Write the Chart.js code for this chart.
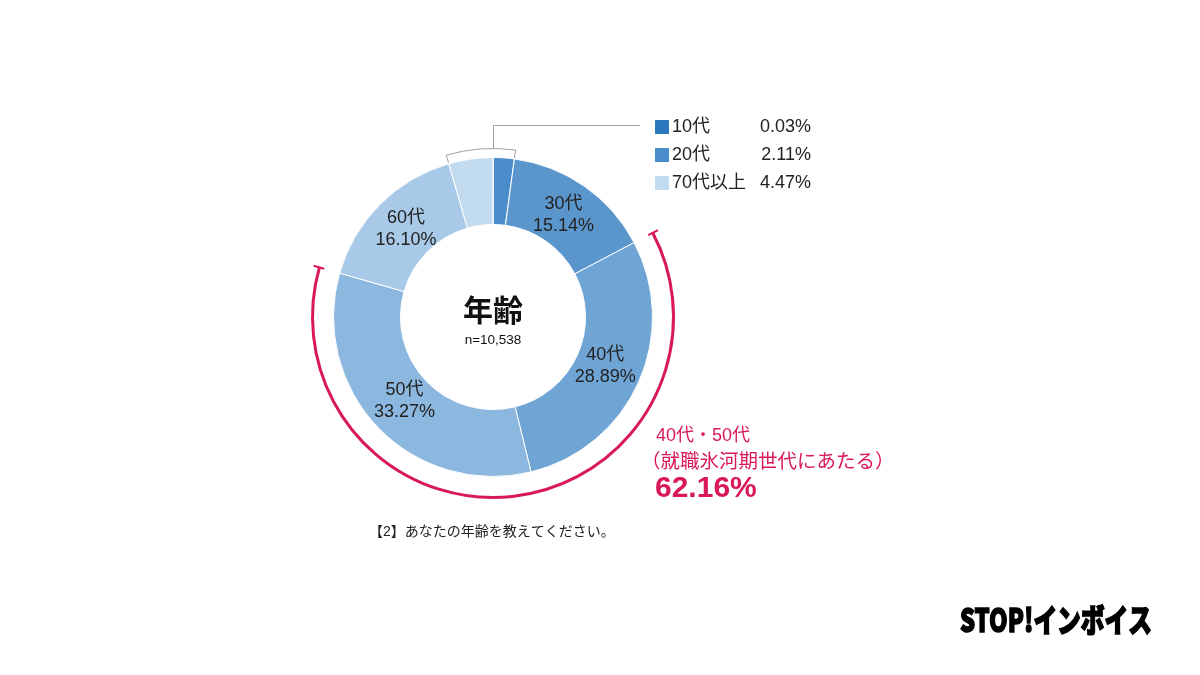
<!DOCTYPE html>
<html><head><meta charset="utf-8">
<script src="https://cdn.jsdelivr.net/npm/chart.js@4"></script>
<style>html,body{margin:0;padding:0;background:#fff;}#wrap{width:1200px;height:675px;position:relative;}</style>
</head><body><div id="wrap"><canvas id="c" width="1200" height="675"></canvas></div>
<script>
const categories = ['10代','20代','30代','40代','50代','60代','70代以上'];
const values = [0.03, 2.11, 15.14, 28.89, 33.27, 16.10, 4.47];
const colors = ['#2a78be','#4a8dca','#5a96cb','#6fa5d5','#8cb7df','#a8c9e7','#c3dbef'];
const insideLabelIdx = [2, 3, 4, 5];
const legendIdx = [0, 1, 6];
const highlightIdx = [3, 4];
const centerTitle = '年齢';
const sampleSize = 'n=10,538';
const noteLine1 = '40代・50代';
const noteLine2 = '（就職氷河期世代にあたる）';
const caption = '【2】あなたの年齢を教えてください。';
const logoText = 'STOP!インボイス';

const FONT = '"Liberation Sans","Noto Sans CJK JP",sans-serif';
const CJK = '"Noto Sans CJK JP",sans-serif';
const RED = '#d9185b';
const pct = v => v.toFixed(2) + '%';

const overlay = {
  id: 'overlay',
  afterDraw(chart) {
    const ctx = chart.ctx;
    const arcs = chart.getDatasetMeta(0).data;
    const cx = arcs[0].x, cy = arcs[0].y;
    const R = arcs[0].outerRadius, r0 = arcs[0].innerRadius;
    ctx.save();
    // inside labels
    ctx.fillStyle = '#222';
    ctx.textAlign = 'center';
    ctx.textBaseline = 'middle';
    insideLabelIdx.forEach(i => {
      const a = arcs[i];
      const mid = (a.startAngle + a.endAngle) / 2;
      const rr = (R + r0) / 2 - 3;
      const x = cx + Math.cos(mid) * rr, y = cy + Math.sin(mid) * rr;
      ctx.font = '18px ' + FONT;
      ctx.fillText(categories[i], x, y - 12);
      ctx.fillText(pct(values[i]), x, y + 10);
    });
    // center
    ctx.font = 'bold 30px ' + CJK;
    ctx.fillStyle = '#111';
    ctx.fillText(centerTitle, cx, cy - 7);
    ctx.font = '13.5px ' + FONT;
    ctx.fillText(sampleSize, cx, cy + 23);

    // bracket around small segments (70代以上 .. 20代)
    const bStart = arcs[6].startAngle, bEnd = arcs[1].endAngle + 2 * Math.PI;
    const rb = R + 9;
    ctx.strokeStyle = '#a0a0a0';
    ctx.lineWidth = 1;
    ctx.beginPath();
    ctx.moveTo(cx + Math.cos(bStart) * (R + 1), cy + Math.sin(bStart) * (R + 1));
    ctx.arc(cx, cy, rb, bStart, bEnd);
    ctx.lineTo(cx + Math.cos(bEnd) * (R + 1), cy + Math.sin(bEnd) * (R + 1));
    ctx.stroke();
    // leader line
    const topY = cy - rb;
    ctx.beginPath();
    ctx.moveTo(cx + 0.5, topY);
    ctx.lineTo(cx + 0.5, 125.5);
    ctx.lineTo(640, 125.5);
    ctx.stroke();

    // legend
    legendIdx.forEach((i, k) => {
      const y = [127, 155, 183][k];
      ctx.fillStyle = colors[i];
      ctx.fillRect(655, y - 7, 14, 14);
      ctx.fillStyle = '#222';
      ctx.font = '18px ' + FONT;
      ctx.textAlign = 'left';
      ctx.fillText(categories[i], 672, y);
      ctx.textAlign = 'right';
      ctx.fillText(pct(values[i]), 811, y);
    });

    // red highlight arc
    const hs = arcs[highlightIdx[0]].startAngle, he = arcs[highlightIdx[highlightIdx.length - 1]].endAngle;
    const rr = R + 21;
    ctx.strokeStyle = RED;
    ctx.lineWidth = 3;
    ctx.beginPath();
    ctx.arc(cx, cy, rr, hs, he);
    ctx.stroke();
    ctx.lineWidth = 2;
    [hs, he].forEach(a => {
      ctx.beginPath();
      ctx.moveTo(cx + Math.cos(a) * (rr - 5), cy + Math.sin(a) * (rr - 5));
      ctx.lineTo(cx + Math.cos(a) * (rr + 6), cy + Math.sin(a) * (rr + 6));
      ctx.stroke();
    });
    const total = highlightIdx.reduce((s, i) => s + values[i], 0);
    ctx.fillStyle = RED;
    ctx.textAlign = 'left';
    ctx.font = '18px ' + FONT;
    ctx.fillText(noteLine1, 656, 436);
    ctx.font = '19.5px ' + CJK;
    ctx.fillText(noteLine2, 641, 461);
    ctx.font = 'bold 30px ' + FONT;
    ctx.fillText(pct(total), 655, 489);

    // caption
    ctx.fillStyle = '#222';
    ctx.font = '14px ' + FONT;
    ctx.fillText(caption, 369, 532);

    // logo
    ctx.font = '900 32px ' + CJK;
    ctx.fillStyle = '#000';
    const w = ctx.measureText(logoText).width;
    ctx.save();
    ctx.translate(960, 620);
    ctx.scale(192 / w, 1);
    ctx.lineWidth = 1.5;
    ctx.strokeStyle = '#000';
    ctx.strokeText(logoText, 0, 0);
    ctx.fillText(logoText, 0, 0);
    ctx.restore();
    ctx.restore();
  }
};

new Chart(document.getElementById('c'), {
  type: 'doughnut',
  data: {
    labels: categories,
    datasets: [{ data: values, backgroundColor: colors, borderColor: '#ffffff', borderWidth: 1 }]
  },
  options: {
    responsive: false,
    animation: false,
    cutout: '58%',
    layout: { padding: { left: 333, right: 547, top: 157, bottom: 198 } },
    plugins: { legend: { display: false }, tooltip: { enabled: false } }
  },
  plugins: [overlay]
});
</script></body></html>
